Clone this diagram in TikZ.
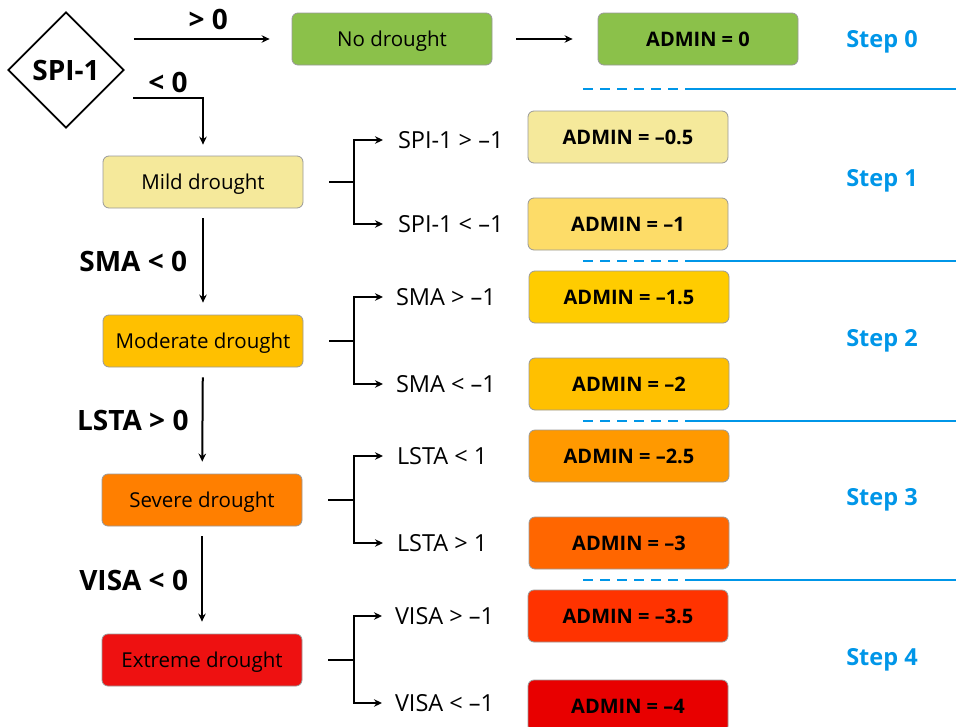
\documentclass[tikz,border=0pt]{standalone}
\usepackage{fontspec}
\setmainfont{Open Sans}
\usetikzlibrary{shapes.geometric,arrows.meta}
\definecolor{stepblue}{RGB}{0,150,232}
\definecolor{cNone}{RGB}{139,193,74}
\definecolor{cMild}{RGB}{245,233,155}
\definecolor{cMildB}{RGB}{253,220,104}
\definecolor{cModA}{RGB}{255,204,0}
\definecolor{cMod}{RGB}{255,192,0}
\definecolor{cSevA}{RGB}{255,153,0}
\definecolor{cSev}{RGB}{255,127,0}
\definecolor{cSevB}{RGB}{255,102,0}
\definecolor{cExtA}{RGB}{255,51,0}
\definecolor{cExt}{RGB}{238,17,17}
\definecolor{cExtB}{RGB}{232,0,0}
\begin{document}
\begin{tikzpicture}[x=1pt, y=-1pt, line width=2pt,
  >={Stealth[length=8pt,width=7.5pt]},
  box/.style={draw=black!40, line width=0.8pt, rounded corners=6pt,
    minimum width=200pt, minimum height=52pt, inner sep=0pt, text depth=0pt,
    font=\fontsize{20.5}{24}\selectfont},
  admin/.style={box, font=\fontsize{20}{24}\selectfont\bfseries},
  cond/.style={anchor=west, inner sep=0pt, font=\fontsize{23.5}{27}\selectfont},
  rule/.style={inner sep=0pt, font=\fontsize{28}{32}\selectfont\bfseries},
  steplbl/.style={text=stepblue, font=\fontsize{23.5}{27}\selectfont\bfseries},
  branch/.style={line width=2.6pt},
  sep/.style={stepblue, line width=2.6pt}]
\useasboundingbox (0,0) rectangle (956,726);
% step 0
\node[diamond, draw, line width=1.8pt, aspect=1, minimum size=116pt, inner sep=0pt,
  font=\fontsize{28}{32}\selectfont\bfseries] (spi) at (66,70) {SPI-1};
\node[box, fill=cNone] (lvl_0) at (392,39) {No drought};
\draw[->, shorten <=9pt, shorten >=22pt] (spi.east |- lvl_0) -- (lvl_0) node[rule, midway, above=8pt, xshift=0pt] {> 0};
\node[admin, fill=cNone] (adm_0) at (698,39) {ADMIN = 0};
\draw[->, shorten <=24pt, shorten >=25pt] (lvl_0) -- (adm_0);
\node[steplbl] (step_0) at (882,42) {Step 0};
\draw[sep, dash pattern=on 10pt off 7pt] (583,89) -- (700,89);
\draw[sep] (688,89) -- (956,89);
% step 1
\node[box, fill=cMild] (lvl_1) at (203,182) {Mild drought};
\coordinate (lt_0) at (133,98);
\node[rule] at (168,82) {< 0};
\draw[->, shorten >=11pt] (lt_0) -| (lvl_1.north);
\coordinate (br_1) at (354,182);
\draw[branch] ([xshift=26pt]lvl_1.east) -- (br_1);
\node[cond] (c_1_0) at (397,140) {SPI-1 > –1};
\node[cond] (c_1_1) at (397,224) {SPI-1 < –1};
\draw[branch, ->, shorten >=14pt] (br_1) |- (c_1_0.west);
\draw[branch, ->, shorten >=14pt] (br_1) |- (c_1_1.west);
\node[admin, fill=cMild] (adm_1_0) at (628,137) {ADMIN = –0.5};
\node[admin, fill=cMildB] (adm_1_1) at (628,224) {ADMIN = –1};
\node[steplbl] (step_1) at (882,181) {Step 1};
\draw[sep, dash pattern=on 10pt off 7pt] (583,261) -- (700,261);
\draw[sep] (688,261) -- (956,261);
% step 2
\node[box, fill=cMod] (lvl_2) at (203,341) {Moderate drought};
\draw[->, shorten <=10pt, shorten >=12pt] (lvl_1) -- (lvl_2) node[rule, midway, left=15pt] {SMA < 0};
\coordinate (br_2) at (354,341);
\draw[branch] ([xshift=26pt]lvl_2.east) -- (br_2);
\node[cond] (c_2_0) at (395,297) {SMA > –1};
\node[cond] (c_2_1) at (395,384) {SMA < –1};
\draw[branch, ->, shorten >=12pt] (br_2) |- (c_2_0.west);
\draw[branch, ->, shorten >=12pt] (br_2) |- (c_2_1.west);
\node[admin, fill=cModA] (adm_2_0) at (629,297) {ADMIN = –1.5};
\node[admin, fill=cMod] (adm_2_1) at (629,384) {ADMIN = –2};
\node[steplbl] (step_2) at (882,341) {Step 2};
\draw[sep, dash pattern=on 10pt off 7pt] (583,421) -- (700,421);
\draw[sep] (688,421) -- (956,421);
% step 3
\node[box, fill=cSev] (lvl_3) at (202,500) {Severe drought};
\draw[->, shorten <=10pt, shorten >=12pt] (lvl_2) -- (lvl_3) node[rule, midway, left=13pt] {LSTA > 0};
\coordinate (br_3) at (354,500);
\draw[branch] ([xshift=26pt]lvl_3.east) -- (br_3);
\node[cond] (c_3_0) at (396,456) {LSTA < 1};
\node[cond] (c_3_1) at (396,543) {LSTA > 1};
\draw[branch, ->, shorten >=13pt] (br_3) |- (c_3_0.west);
\draw[branch, ->, shorten >=13pt] (br_3) |- (c_3_1.west);
\node[admin, fill=cSevA] (adm_3_0) at (629,456) {ADMIN = –2.5};
\node[admin, fill=cSevB] (adm_3_1) at (629,543) {ADMIN = –3};
\node[steplbl] (step_3) at (882,500) {Step 3};
\draw[sep, dash pattern=on 10pt off 7pt] (583,580) -- (700,580);
\draw[sep] (688,580) -- (956,580);
% step 4
\node[box, fill=cExt] (lvl_4) at (202,660) {Extreme drought};
\draw[->, shorten <=10pt, shorten >=12pt] (lvl_3) -- (lvl_4) node[rule, midway, left=13pt] {VISA < 0};
\coordinate (br_4) at (354,660);
\draw[branch] ([xshift=26pt]lvl_4.east) -- (br_4);
\node[cond] (c_4_0) at (394,616) {VISA > –1};
\node[cond] (c_4_1) at (394,703) {VISA < –1};
\draw[branch, ->, shorten >=12pt] (br_4) |- (c_4_0.west);
\draw[branch, ->, shorten >=12pt] (br_4) |- (c_4_1.west);
\node[admin, fill=cExtA] (adm_4_0) at (628,616) {ADMIN = –3.5};
\node[admin, fill=cExtB] (adm_4_1) at (628,706) {ADMIN = –4};
\node[steplbl] (step_4) at (882,660) {Step 4};
\end{tikzpicture}
\end{document}
